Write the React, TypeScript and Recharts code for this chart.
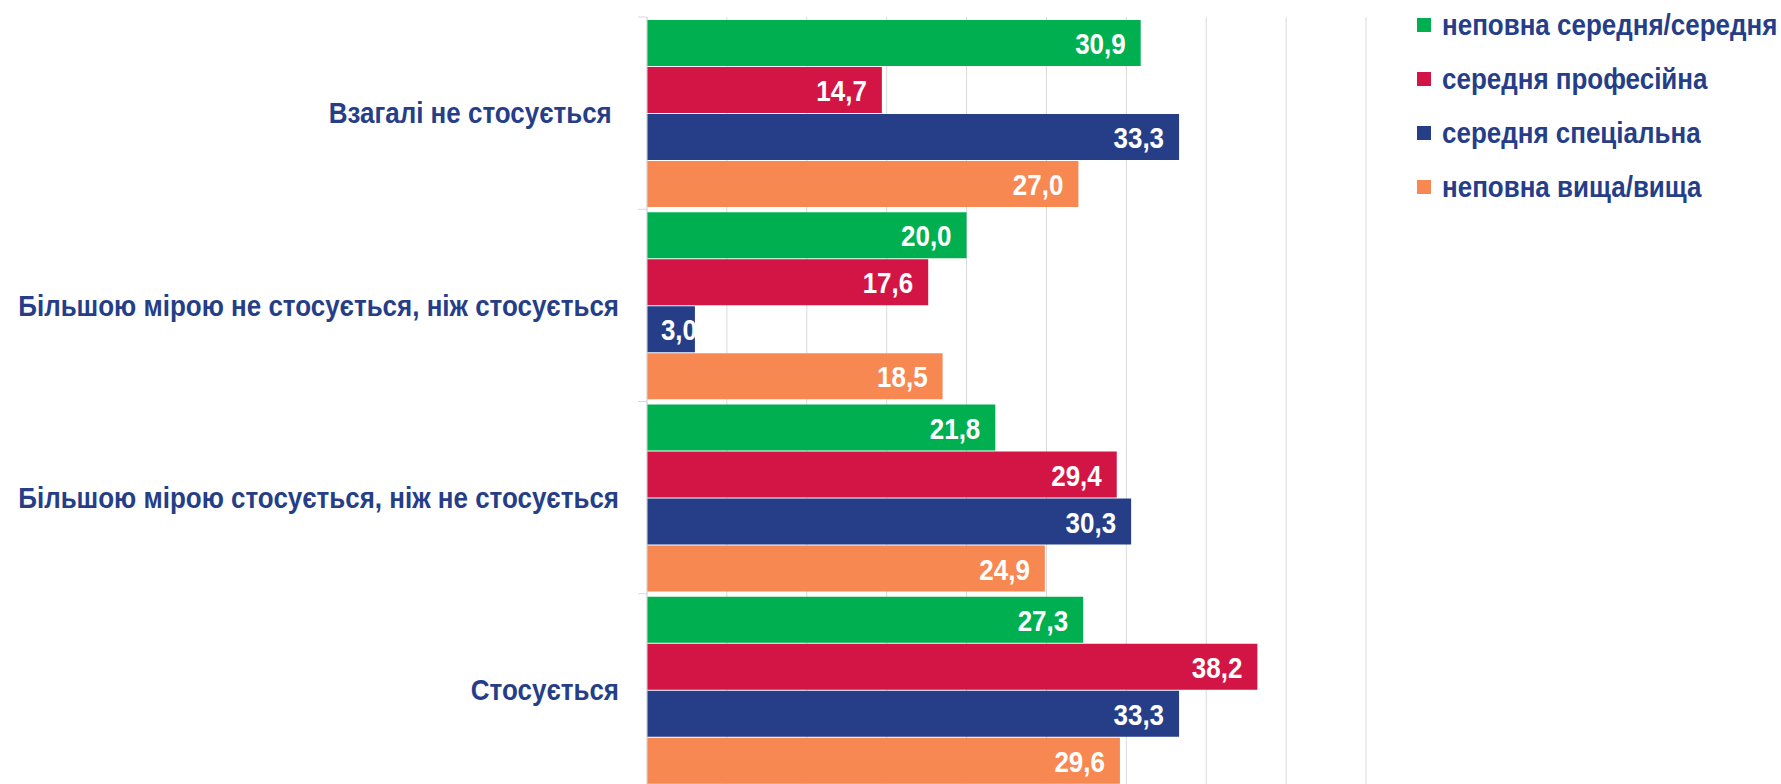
import React from 'react';
import { BarChart, Bar, XAxis, YAxis, CartesianGrid, LabelList } from 'recharts';

const categories = [
  'Взагалі не стосується ',
  'Більшою мірою не стосується, ніж стосується',
  'Більшою мірою стосується, ніж не стосується',
  'Стосується',
];

const seriesNames = [
  'неповна середня/середня',
  'середня професійна',
  'середня спеціальна',
  'неповна вища/вища',
];

const incompleteSecondary = [30.9, 20.0, 21.8, 27.3];
const vocational = [14.7, 17.6, 29.4, 38.2];
const specialized = [33.3, 3.0, 30.3, 33.3];
const higher = [27.0, 18.5, 24.9, 29.6];

const xTicks = [0, 5, 10, 15, 20, 25, 30, 35, 40, 45];

const COLORS = ['#00B050', '#D31545', '#263E88', '#F88852'];
const TEXT = '#263E88';
const FONT = '"Liberation Sans", Arial, sans-serif';
const SQUEEZE = 0.866;

const W = 1781;
const H = 790;
const M = { top: 17, right: 415, bottom: 4, left: 7 };
const BAND = (H - M.top - M.bottom) / categories.length;

const data = categories.map((name, i) => ({
  name,
  s0: incompleteSecondary[i],
  s1: vocational[i],
  s2: specialized[i],
  s3: higher[i],
}));

const fmt = (v: number) => v.toFixed(1).replace('.', ',');

function CategoryTick(props: any) {
  const { x, y, payload } = props;
  const axisX = x + 8;
  const top = y - BAND / 2;
  return (
    <g>
      <line x1={axisX - 9} x2={axisX} y1={top} y2={top} stroke="#D9D9D9" />
      <text
        transform={`translate(${x - 20},${y}) scale(${SQUEEZE},1)`}
        textAnchor="end"
        dominantBaseline="central"
        fill={TEXT}
        fontFamily={FONT}
        fontWeight="bold"
        fontSize={30}
        style={{ whiteSpace: 'pre' }}
      >
        {payload.value}
      </text>
    </g>
  );
}

function ValueLabel(props: any) {
  const { x, y, width, height, value } = props;
  const right = Math.max(x + width - 15, x + 50);
  return (
    <text
      transform={`translate(${right},${y + height / 2 + 1}) scale(${SQUEEZE},1)`}
      textAnchor="end"
      dominantBaseline="central"
      fill="#fff"
      fontFamily={FONT}
      fontWeight="bold"
      fontSize={30}
    >
      {fmt(Number(value))}
    </text>
  );
}

function LegendBox() {
  return (
    <div
      style={{
        position: 'absolute',
        left: 1417,
        top: 0,
        fontFamily: FONT,
        fontWeight: 'bold',
        fontSize: 30,
        color: TEXT,
        whiteSpace: 'nowrap',
      }}
    >
      {seriesNames.map((n, i) => (
        <div key={n} style={{ position: 'absolute', top: 25 + i * 54 - 20, height: 40, display: 'flex', alignItems: 'center' }}>
          <span style={{ display: 'inline-block', width: 14, height: 14, background: COLORS[i], marginRight: 11 }} />
          <span style={{ display: 'inline-block', transform: `scaleX(${SQUEEZE})`, transformOrigin: 'left center' }}>{n}</span>
        </div>
      ))}
    </div>
  );
}

export default function App() {
  return (
    <div style={{ position: 'absolute', left: 0, top: 0, width: W, height: 784, overflow: 'hidden', background: '#fff' }}>
      <BarChart width={W} height={H} data={data} layout="vertical" margin={M} barCategoryGap={3} barGap={1}>
        <CartesianGrid horizontal={false} stroke="#D9D9D9" />
        <XAxis
          type="number"
          domain={[0, 45]}
          ticks={xTicks}
          interval={0}
          tick={{ fill: 'transparent', fontSize: 1 }}
          axisLine={false}
          tickLine={false}
          height={0}
        />
        <YAxis
          type="category"
          dataKey="name"
          width={640}
          tick={<CategoryTick />}
          tickLine={false}
          axisLine={{ stroke: '#D9D9D9' }}
        />
        {['s0', 's1', 's2', 's3'].map((k, i) => (
          <Bar key={k} dataKey={k} name={seriesNames[i]} fill={COLORS[i]} isAnimationActive={false}>
            <LabelList dataKey={k} content={<ValueLabel />} />
          </Bar>
        ))}
      </BarChart>
      <LegendBox />
    </div>
  );
}
